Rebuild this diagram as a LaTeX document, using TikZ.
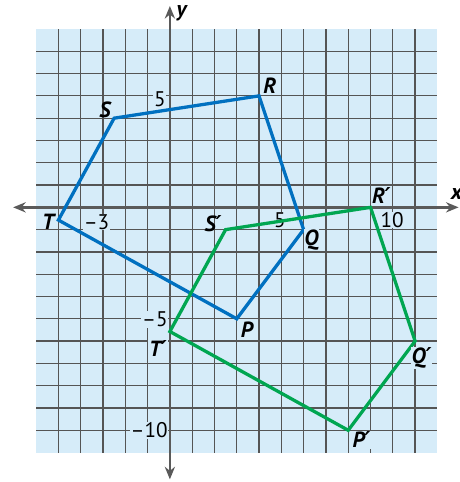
\documentclass[tikz,border=0pt]{standalone}
\usepackage{fontspec}
\setmainfont{PT Sans}
\newfontfamily\primefont{DejaVu Sans}
\newcommand{\prm}{{\primefont ′}}
\usepackage{xcolor}
\usepackage{tikz}
\usetikzlibrary{arrows.meta}

\definecolor{gridbg}{RGB}{214,236,249}
\definecolor{gridln}{RGB}{85,85,85}
\definecolor{axisgray}{RGB}{90,90,90}
\definecolor{preblue}{RGB}{0,112,192}
\definecolor{imggreen}{RGB}{0,166,81}

\begin{document}
\begin{tikzpicture}[x=0.5cm, y=0.5cm,
    gridline/.style={gridln, line width=0.8pt},
    axis/.style={axisgray, line width=1.5pt, {Stealth[length=8pt,width=6.5pt]}-{Stealth[length=8pt,width=6.5pt]}},
    preimg/.style={preblue, line width=2.1pt},
    imgpoly/.style={imggreen, line width=2.1pt},
    vlbl/.style={font=\fontsize{14}{16}\selectfont\bfseries\itshape, fill=gridbg, inner sep=0.5pt},
    tick/.style={font=\fontsize{13.5}{16}\selectfont, fill=gridbg, inner sep=0.5pt},
]
\useasboundingbox (-7.62,-12.32) rectangle (13.0,9.30);

% background and grid
\fill[gridbg] (-6,-11) rectangle (12,8);
\foreach \i in {-5,...,11} \draw[gridline] (\i,-11) -- (\i,8);
\foreach \j in {-10,...,7} \draw[gridline] (-6,\j) -- (12,\j);

% axes
\coordinate (xl) at (-7.03,0);
\coordinate (xr) at (12.95,0);
\coordinate (yt) at (0,9.03);
\coordinate (yb) at (0,-12.2);
\draw[axis] (xl) -- (xr);
\draw[axis] (yb) -- (yt);
\node[font=\fontsize{14}{16}\selectfont\bfseries\itshape] (xlab) at (12.86,0.62) {x};
\node[font=\fontsize{14}{16}\selectfont\bfseries\itshape] (ylab) at (0.52,8.7) {y};

% tick labels
\node[tick] (ty5) at (-0.45,4.86) {5};
\node[tick] (tym5) at (-0.67,-5.02) {–5};
\node[tick] (tym10) at (-0.93,-10.0) {–10};
\node[tick] (txm3) at (-3.29,-0.65) {–3};
\node[tick] (tx5) at (4.93,-0.6) {5};
\node[tick] (tx10) at (9.97,-0.57) {10};

% preimage PQRST
\coordinate (P) at (3,-5);
\coordinate (Q) at (6,-1);
\coordinate (R) at (4,5);
\coordinate (S) at (-2.5,4);
\coordinate (T) at (-5,-0.57);
\draw[preimg] (P) -- (Q) -- (R) -- (S) -- (T) -- cycle;

% image P'Q'R'S'T'
\coordinate (Pp) at (8,-10);
\coordinate (Qp) at (11,-6);
\coordinate (Rp) at (9,0);
\coordinate (Sp) at (2.5,-1);
\coordinate (Tp) at (0,-5.57);
\draw[imgpoly] (Pp) -- (Qp) -- (Rp) -- (Sp) -- (Tp) -- cycle;

% vertex labels
\node[vlbl] (lblP) at (3.45,-5.5) {P};
\node[vlbl] (lblQ) at (6.35,-1.47) {Q};
\node[vlbl, fill=none] (lblR) at (4.48,5.44) {R};
\node[vlbl, fill=none] (lblS) at (-2.91,4.36) {S};
\node[vlbl, fill=none] (lblT) at (-5.46,-0.65) {T};
\node[vlbl] (lblPp) at (8.6,-10.43) {P\prm};
\node[vlbl] (lblQp) at (11.29,-6.77) {Q\prm};
\node[vlbl, fill=none] (lblRp) at (9.49,0.55) {R\prm};
\node[vlbl, fill=none] (lblSp) at (1.94,-0.72) {S\prm};
\node[vlbl] (lblTp) at (-0.53,-6.33) {T\prm};
\end{tikzpicture}
\end{document}
